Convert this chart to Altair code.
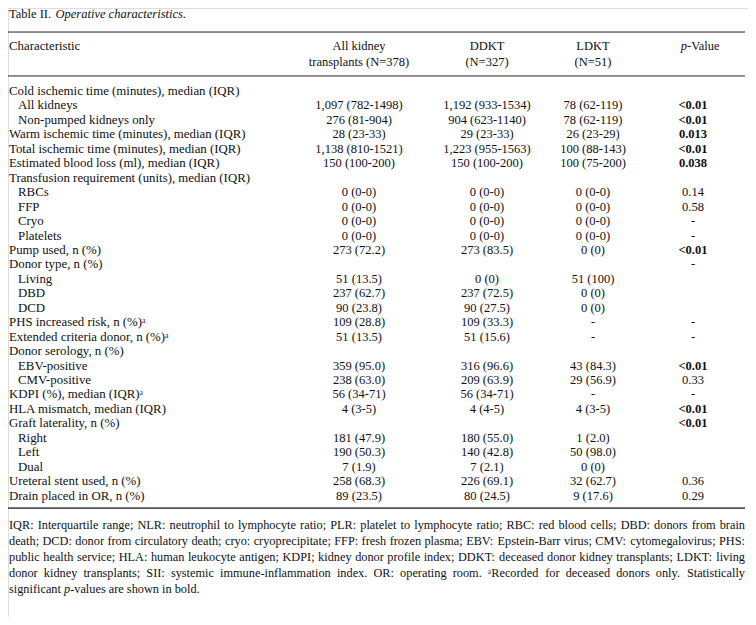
import altair as alt
import pandas as pd

# ---------------- data ----------------
title_plain = "Table II."
title_italic = "Operative characteristics."

header_label = "Characteristic"
header_line1 = ["All kidney", "DDKT", "LDKT"]
header_line2 = ["transplants (N=378)", "(N=327)", "(N=51)"]
header_p_italic = "p"
header_p_rest = "-Value"

SUP = "\u1d43"
labels = [
    "Cold ischemic time (minutes), median (IQR)",
    "All kidneys",
    "Non-pumped kidneys only",
    "Warm ischemic time (minutes), median (IQR)",
    "Total ischemic time (minutes), median (IQR)",
    "Estimated blood loss (ml), median (IQR)",
    "Transfusion requirement (units), median (IQR)",
    "RBCs", "FFP", "Cryo", "Platelets",
    "Pump used, n (%)",
    "Donor type, n (%)",
    "Living", "DBD", "DCD",
    "PHS increased risk, n (%)" + SUP,
    "Extended criteria donor, n (%)" + SUP,
    "Donor serology, n (%)",
    "EBV-positive", "CMV-positive",
    "KDPI (%), median (IQR)" + SUP,
    "HLA mismatch, median (IQR)",
    "Graft laterality, n (%)",
    "Right", "Left", "Dual",
    "Ureteral stent used, n (%)",
    "Drain placed in OR, n (%)",
]
indent = [0, 1, 1, 0, 0, 0, 0, 1, 1, 1, 1, 0, 0, 1, 1, 1, 0, 0, 0, 1, 1, 0, 0, 0, 1, 1, 1, 0, 0]
all_kidney = ["", "1,097 (782-1498)", "276 (81-904)", "28 (23-33)", "1,138 (810-1521)", "150 (100-200)", "",
              "0 (0-0)", "0 (0-0)", "0 (0-0)", "0 (0-0)", "273 (72.2)", "", "51 (13.5)", "237 (62.7)", "90 (23.8)",
              "109 (28.8)", "51 (13.5)", "", "359 (95.0)", "238 (63.0)", "56 (34-71)", "4 (3-5)", "",
              "181 (47.9)", "190 (50.3)", "7 (1.9)", "258 (68.3)", "89 (23.5)"]
ddkt = ["", "1,192 (933-1534)", "904 (623-1140)", "29 (23-33)", "1,223 (955-1563)", "150 (100-200)", "",
        "0 (0-0)", "0 (0-0)", "0 (0-0)", "0 (0-0)", "273 (83.5)", "", "0 (0)", "237 (72.5)", "90 (27.5)",
        "109 (33.3)", "51 (15.6)", "", "316 (96.6)", "209 (63.9)", "56 (34-71)", "4 (4-5)", "",
        "180 (55.0)", "140 (42.8)", "7 (2.1)", "226 (69.1)", "80 (24.5)"]
ldkt = ["", "78 (62-119)", "78 (62-119)", "26 (23-29)", "100 (88-143)", "100 (75-200)", "",
        "0 (0-0)", "0 (0-0)", "0 (0-0)", "0 (0-0)", "0 (0)", "", "51 (100)", "0 (0)", "0 (0)",
        "-", "-", "", "43 (84.3)", "29 (56.9)", "-", "4 (3-5)", "",
        "1 (2.0)", "50 (98.0)", "0 (0)", "32 (62.7)", "9 (17.6)"]
p_value = ["", "<0.01", "<0.01", "0.013", "<0.01", "0.038", "",
           "0.14", "0.58", "-", "-", "<0.01", "-", "", "", "",
           "-", "-", "", "<0.01", "0.33", "-", "<0.01", "<0.01",
           "", "", "", "0.36", "0.29"]
p_bold = [v.startswith("<") or v in ("0.013", "0.038") for v in p_value]

footnote_lines = [
    "IQR: Interquartile range; NLR: neutrophil to lymphocyte ratio; PLR: platelet to lymphocyte ratio; RBC: red blood cells; DBD: donors from brain",
    "death; DCD: donor from circulatory death; cryo: cryoprecipitate; FFP: fresh frozen plasma; EBV: Epstein-Barr virus; CMV: cytomegalovirus; PHS:",
    "public health service; HLA: human leukocyte antigen; KDPI; kidney donor profile index; DDKT: deceased donor kidney transplants; LDKT: living",
    "donor kidney transplants; SII: systemic immune-inflammation index. OR: operating room. " + SUP + "Recorded for deceased donors only. Statistically",
]
footnote_last = [("significant", "n"), ("p", "i"), ("-values", "n"), ("are", "n"), ("shown", "n"), ("in", "n"), ("bold.", "n")]

# ---------------- layout ----------------
FONT = "Liberation Serif"
FS = 12.5          # values, header, title
FS_LAB = 12.85     # row labels
FS_FOOT = 12.3
INK = "#111111"
W, H = 740, 609
COLX = {"lab0": 1, "lab1": 10, "all": 351, "ddkt": 479, "ldkt": 585, "p": 685,
        "title_it": 47.5, "ph_split": 679}
LINE_L, LINE_R = 1, 737
# vertical positions in row units (row 0 = first body row)
ROW_TITLE = -5.33
ROW_H1, ROW_H2 = -3.11, -2.01
RULES = [(-4.08, 1.0, "#222222"), (-1.04, 1.0, "#222222"), (28.86, 1.8, "#555555")]
FOOT0, FOOT_STEP = 30.03, 1.107

xs = alt.Scale(domain=[0, W], range=[0, W], nice=False, zero=False)
ys = alt.Scale(domain=[0, 28], range=[83, 83 + 28 * 14.45], nice=False, zero=False)

# Times/Liberation Serif advance widths (per 1000 em) used to justify footnote lines
_TW = {" ": 250, ",": 250, ".": 250, ":": 278, ";": 278, "-": 333, "(": 333, ")": 333, "%": 833,
       "A": 722, "B": 667, "C": 667, "D": 722, "E": 611, "F": 556, "G": 722, "H": 722, "I": 333,
       "J": 389, "K": 722, "L": 611, "M": 889, "N": 722, "O": 722, "P": 556, "Q": 722, "R": 667,
       "S": 556, "T": 611, "U": 722, "V": 722, "W": 944, "X": 722, "Y": 722, "Z": 611,
       "a": 444, "b": 500, "c": 444, "d": 500, "e": 444, "f": 333, "g": 500, "h": 500, "i": 278,
       "j": 278, "k": 500, "l": 278, "m": 778, "n": 500, "o": 500, "p": 500, "q": 500, "r": 333,
       "s": 389, "t": 278, "u": 500, "v": 500, "w": 722, "x": 500, "y": 500, "z": 444, SUP: 330}


def tw(s, size):
    return sum(_TW.get(ch, 500) for ch in s) / 1000.0 * size


left_cells, label_cells, center_cells, bold_cells, italic_left, italic_right, foot_words = [], [], [], [], [], [], []

left_cells.append({"t": title_plain, "x": COLX["lab0"], "r": ROW_TITLE})
italic_left.append({"t": title_italic, "x": COLX["title_it"], "r": ROW_TITLE, "s": FS})
label_cells.append({"t": header_label, "x": COLX["lab0"], "r": ROW_H1})
for k, a, b in zip(["all", "ddkt", "ldkt"], header_line1, header_line2):
    center_cells.append({"t": a, "x": COLX[k], "r": ROW_H1})
    center_cells.append({"t": b, "x": COLX[k], "r": ROW_H2})
italic_right.append({"t": header_p_italic, "x": COLX["ph_split"], "r": ROW_H1})
left_cells.append({"t": header_p_rest, "x": COLX["ph_split"], "r": ROW_H1})

for i, lab in enumerate(labels):
    label_cells.append({"t": lab, "x": COLX["lab1"] if indent[i] else COLX["lab0"], "r": i})
    for k, col in (("all", all_kidney), ("ddkt", ddkt), ("ldkt", ldkt)):
        if col[i]:
            center_cells.append({"t": col[i], "x": COLX[k], "r": i})
    if p_value[i]:
        (bold_cells if p_bold[i] else center_cells).append({"t": p_value[i], "x": COLX["p"], "r": i})

# justified footnote lines: words spread between the table's left and right edges
for j, line in enumerate(footnote_lines):
    words = line.split(" ")
    widths = [tw(w_, FS_FOOT) for w_ in words]
    gap = (LINE_R - LINE_L - sum(widths)) / (len(words) - 1)
    xpos = LINE_L
    for w_, wd in zip(words, widths):
        foot_words.append({"t": w_, "x": xpos, "r": FOOT0 + j * FOOT_STEP})
        xpos += wd + gap
rl = FOOT0 + len(footnote_lines) * FOOT_STEP
xpos = LINE_L
for k, (w_, st) in enumerate(footnote_last):
    rec = {"t": w_, "x": xpos, "r": rl}
    if st == "i":
        rec["s"] = FS_FOOT
        italic_left.append(rec)
        xpos += tw(w_, FS_FOOT)
    else:
        foot_words.append(rec)
        xpos += tw(w_, FS_FOOT) + tw(" ", FS_FOOT)


def text_layer(rows, align, size=FS, weight="normal", style="normal"):
    return alt.Chart(pd.DataFrame(rows)).mark_text(
        align=align, baseline="middle", font=FONT, fontSize=size,
        fontWeight=weight, fontStyle=style, color=INK
    ).encode(
        x=alt.X("x:Q", scale=xs, axis=None),
        y=alt.Y("r:Q", scale=ys, axis=None),
        text="t:N",
    )


rules_df = pd.DataFrame([{"r": r, "w": w, "c": c} for r, w, c in RULES])
rules = alt.Chart(rules_df).mark_rule().encode(
    y=alt.Y("r:Q", scale=ys, axis=None),
    x=alt.value(0), x2=alt.value(737),
    strokeWidth=alt.StrokeWidth("w:Q", scale=None, legend=None),
    color=alt.Color("c:N", scale=None, legend=None),
)

italic_l = alt.Chart(pd.DataFrame(italic_left)).mark_text(
    align="left", baseline="middle", font=FONT, fontStyle="italic", color=INK
).encode(
    x=alt.X("x:Q", scale=xs, axis=None),
    y=alt.Y("r:Q", scale=ys, axis=None),
    text="t:N",
    size=alt.Size("s:Q", scale=None, legend=None),
)

chart = alt.layer(
    rules,
    text_layer(left_cells, "left"),
    text_layer(label_cells, "left", size=FS_LAB),
    text_layer(center_cells, "center"),
    text_layer(bold_cells, "center", weight="bold"),
    text_layer(italic_right, "right", style="italic"),
    italic_l,
    text_layer(foot_words, "left", size=FS_FOOT),
).properties(
    width=W, height=H, padding=0, autosize=alt.AutoSizeParams(type="none")
).configure_view(strokeWidth=0).configure(background="white")

chart.save("out.html", embed_options={"renderer": "svg", "actions": False})
